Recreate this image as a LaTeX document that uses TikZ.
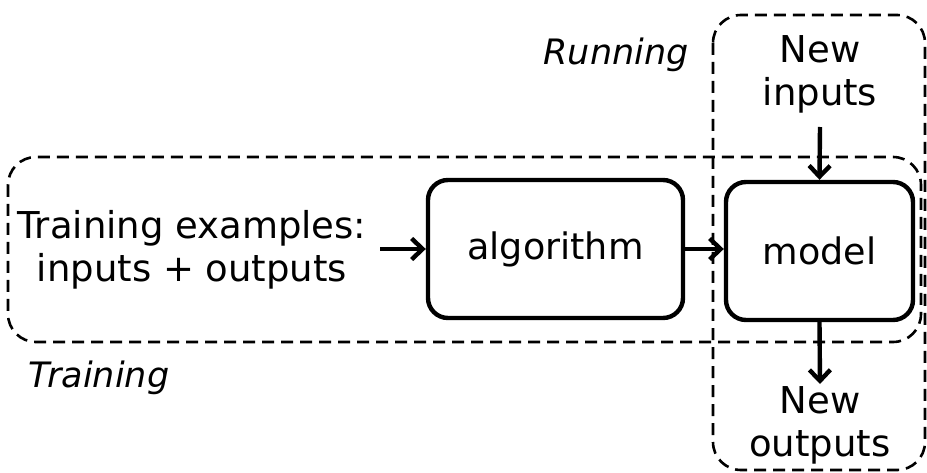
\documentclass[tikz,border=0pt]{standalone}
\usepackage{fontspec}
\setmainfont{DejaVu Sans}
\usetikzlibrary{arrows.meta}
\begin{document}
\begin{tikzpicture}[x=1pt,y=-1pt,
  region/.style={draw, line width=2.6pt, dash pattern=on 12pt off 7pt, rounded corners=28pt},
  stage/.style={draw, line width=4.4pt, rounded corners=20pt, font=\fontsize{36.5}{40}\selectfont},
  lbl/.style={align=center, font=\fontsize{37}{43}\selectfont, inner sep=0pt},
  tag/.style={font=\fontsize{35}{38}\selectfont\itshape, inner sep=0pt},
  flow/.style={line width=4.4pt, -{Straight Barb[length=11pt,width=21pt,line width=4.4pt]}}]
\useasboundingbox (0,0) rectangle (927,473);
% regions
\draw[region] (8,157) rectangle (921,342);
\draw[region] (713,15) rectangle (925,470);
% stages
\node[stage, minimum width=255pt, minimum height=138pt] (alg) at (555.5,249) {algorithm};
\node[stage, minimum width=187pt, minimum height=138pt] (model) at (819.5,251) {model};
% texts
\node[lbl] (train) at (192,250) {Training examples:\\inputs + outputs};
\node[lbl] (newin) at (820,74) {New\\inputs};
\node[lbl] (newout) at (820,425) {New\\outputs};
\node[tag] (run) at (616,55) {Running};
\node[tag] (trn) at (99,378) {Training};
% connectors
\coordinate (tr) at (380,249);
\draw[flow] (tr) -- (alg.west);
\draw[flow] (alg.east) -- (alg.east -| model.west);
\coordinate (ina) at (820,127);
\draw[flow] (ina) -- (model.north);
\coordinate (outb) at (820,384);
\draw[flow] (model.south) -- (outb);
\end{tikzpicture}
\end{document}
